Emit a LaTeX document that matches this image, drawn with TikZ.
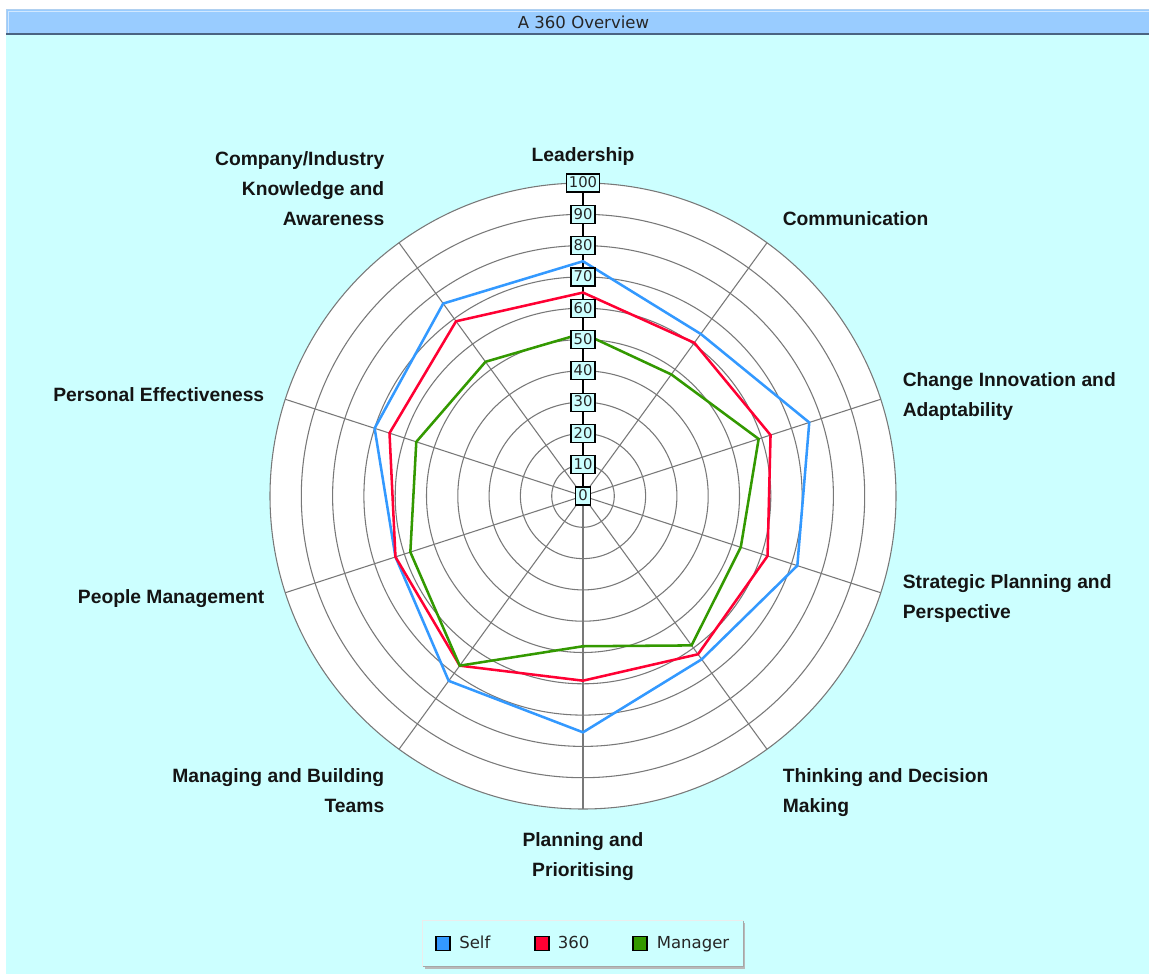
\documentclass[tikz,border=0pt]{standalone}
\usepackage{fontspec}
\setmainfont{Liberation Sans}
\newfontfamily\dvs{DejaVu Sans}
\definecolor{bgcyan}{RGB}{204,255,255}
\definecolor{barblue}{RGB}{153,204,255}
\definecolor{barborder}{RGB}{176,208,240}
\definecolor{barline}{RGB}{74,100,130}
\definecolor{selfblue}{RGB}{51,153,255}
\definecolor{tsred}{RGB}{255,0,51}
\definecolor{mgrgreen}{RGB}{51,153,0}
\definecolor{gridgray}{RGB}{120,120,120}
\definecolor{labeltext}{RGB}{20,20,20}
\newcommand{\lstr}{\rule[-0.18em]{0pt}{1.08em}}
\tikzset{
  gridline/.style={draw=gridgray, line width=0.8pt},
  axisline/.style={draw=black, line width=0.9pt},
  series/.style={line width=1.9pt, line join=miter},
  catlabel/.style={inner sep=0pt, text=labeltext,
    font=\fontsize{14.45pt}{22.5pt}\selectfont\bfseries},
  ticklabel/.style={draw=black, line width=0.9pt, fill=bgcyan, inner xsep=2pt, inner ysep=0pt,
    minimum height=13.5pt, text height=0.729em, text depth=0pt,
    font=\dvs\fontsize{11.1pt}{12pt}\selectfont, text=black!85},
  titletext/.style={inner sep=0pt, text height=0.729em, text depth=0pt,
    font=\dvs\fontsize{12.4pt}{14pt}\selectfont, text=black!85},
  legendtext/.style={inner sep=0pt, text height=0.729em, text depth=0pt, anchor=west,
    font=\dvs\fontsize{12.4pt}{14pt}\selectfont, text=black!85},
  swatch/.style={draw=black, line width=0.8pt, minimum size=10.5pt, inner sep=0pt},
}
\begin{document}
\begin{tikzpicture}[x=0.75pt,y=-0.75pt]
\useasboundingbox (0,0) rectangle (1149,974);
% backgrounds
\fill[white] (0,0) rectangle (1149,974);
\fill[bgcyan] (6,34) rectangle (1149,974);
% title bar
\fill[barblue] (6,9) rectangle (1149,34);
\draw[barborder, line width=0.9pt] (6.6,34) -- (6.6,9.6) -- (1149,9.6);
\draw[white!55!barblue, line width=0.8pt] (8.5,33) -- (8.5,11.5) -- (1149,11.5);
\draw[barline, line width=1.6pt] (6,33.6) -- (1149,33.6);
\node[titletext] (title) at (583.5,23.3) {A 360 Overview};

% radar
\begin{scope}[shift={(583,496)}, yscale=-1]
  \fill[white] (0,0) circle (313);
  \foreach \k in {1,...,10} \draw[gridline] (0,0) circle ({\k*31.3});
  \foreach \a in {54,18,-18,-54,-90,-126,-162,162,126} \draw[gridline] (0,0) -- (\a:313);
  \draw[axisline] (0,0) -- (90:313);
  % data points
  \foreach \v [count=\i] in {75,64,76,72,64.5,75.5,73,63,70,76}
    \coordinate (s\i) at ({90-36*(\i-1)}:{\v*3.13});
  \foreach \v [count=\i] in {65,60.5,63,62,62.5,59,67,63,65,69}
    \coordinate (r\i) at ({90-36*(\i-1)}:{\v*3.13});
  \foreach \v [count=\i] in {52,48,59,53,59,48,67,58,56,53}
    \coordinate (g\i) at ({90-36*(\i-1)}:{\v*3.13});
  \draw[series, selfblue] (s1) \foreach \i in {2,...,10}{ -- (s\i)} -- cycle;
  \draw[series, tsred] (r1) \foreach \i in {2,...,10}{ -- (r\i)} -- cycle;
  \draw[series, mgrgreen] (g1) \foreach \i in {2,...,10}{ -- (g\i)} -- cycle;
  % tick labels
  \foreach \k in {0,...,10} {
    \pgfmathtruncatemacro{\val}{\k*10}
    \node[ticklabel] (t\k) at (90:{\k*31.3}) {\val};
  }
\end{scope}

% category labels
\node[catlabel, anchor=center] (lead) at (583,155) {\lstr Leadership};
\node[catlabel, anchor=west] (comm) at (782.5,218.3) {\lstr Communication};
\node[catlabel, anchor=west, align=left] (change) at (902.5,395) {\lstr Change Innovation and\\\lstr Adaptability};
\node[catlabel, anchor=west, align=left] (strat) at (902.5,597.2) {\lstr Strategic Planning and\\\lstr Perspective};
\node[catlabel, anchor=west, align=left] (think) at (782.5,791) {\lstr Thinking and Decision\\\lstr Making};
\node[catlabel, anchor=center, align=center] (plan) at (583,855) {\lstr Planning and\\\lstr Prioritising};
\node[catlabel, anchor=east, align=right] (teams) at (384.5,791) {\lstr Managing and Building\\\lstr Teams};
\node[catlabel, anchor=east] (people) at (264.5,597) {\lstr People Management};
\node[catlabel, anchor=east] (personal) at (264.5,395) {\lstr Personal Effectiveness};
\node[catlabel, anchor=east, align=right] (company) at (384.5,188.8) {\lstr Company/Industry\\\lstr Knowledge and\\\lstr Awareness};

% legend
\fill[gray!55] (425,923) rectangle (745.3,968.7);
\fill[bgcyan] (422.7,920.7) rectangle (743.3,966.7);
\draw[white!85!gray, line width=0.8pt] (422.7,966.7) -- (422.7,920.7) -- (743.3,920.7);
\draw[gray!70, line width=0.8pt] (743.3,920.7) -- (743.3,966.7) -- (422.7,966.7);
\node[swatch, fill=selfblue] (swself) at (443,943.7) {};
\node[legendtext] (lself) at (459,943.7) {Self};
\node[swatch, fill=tsred] (swts) at (542,943.7) {};
\node[legendtext] (lts) at (557.5,943.7) {360};
\node[swatch, fill=mgrgreen] (swmgr) at (640,943.7) {};
\node[legendtext] (lmgr) at (656.5,943.7) {Manager};
\end{tikzpicture}
\end{document}
